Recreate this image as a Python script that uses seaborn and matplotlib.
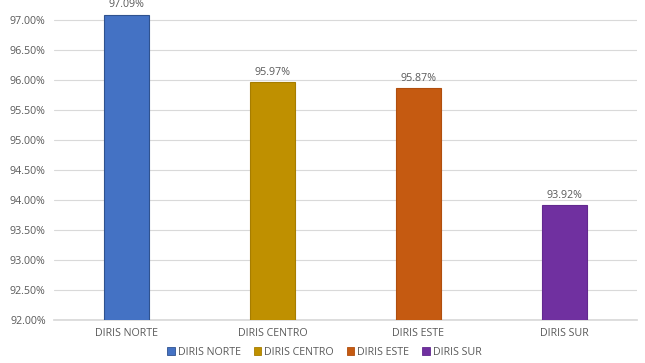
import matplotlib
matplotlib.use("Agg")
import matplotlib.pyplot as plt
import matplotlib.ticker as mtick
import pandas as pd
import seaborn as sns

# datos
categorias = ["DIRIS NORTE", "DIRIS CENTRO", "DIRIS ESTE", "DIRIS SUR"]
valores = [97.09, 95.97, 95.87, 93.92]
colores = ["#4472C4", "#BF9000", "#C55A11", "#7030A0"]
bordes = ["#2F528F", "#A67D00", "#B04E0E", "#62298E"]

df = pd.DataFrame({"diris": categorias, "pct": valores})

sns.set_theme(style="white")
plt.rcParams["font.family"] = ["Open Sans", "DejaVu Sans"]
gris = "#595959"

fig = plt.figure(figsize=(6.45, 3.63), dpi=100)
ax = fig.add_axes([0.0837, 0.1185, 0.9039, 0.8429])

sns.barplot(data=df, x="diris", y="pct", hue="diris", palette=colores,
            saturation=1, width=0.31, ax=ax, legend=False, zorder=3)

for patch, ec in zip(ax.patches, bordes):
    patch.set_edgecolor(ec)
    patch.set_linewidth(0.8)

ax.set_ylim(92, 97.1)
ax.set_yticks([92 + 0.5 * i for i in range(11)])
ax.yaxis.set_major_formatter(mtick.FuncFormatter(lambda v, p: f"{v:.2f}%"))
ax.grid(axis="y", color="#D9D9D9", linewidth=0.8, zorder=0)
ax.set_xlabel("")
ax.set_ylabel("")
for s in ["top", "right", "left"]:
    ax.spines[s].set_visible(False)
ax.spines["bottom"].set_color("#D9D9D9")
ax.tick_params(axis="both", length=0, labelsize=7.7, labelcolor=gris, pad=6)

for patch, v in zip(ax.patches, valores):
    ax.text(patch.get_x() + patch.get_width() / 2, v + 0.07, f"{v:.2f}%",
            ha="center", va="bottom", fontsize=7.7, color=gris, clip_on=False)

handles = [plt.Rectangle((0, 0), 1, 1, facecolor=c, edgecolor=e, linewidth=0.6)
           for c, e in zip(colores, bordes)]
leg = fig.legend(handles, categorias, loc="lower center", ncol=4,
                 bbox_to_anchor=(0.503, -0.012), frameon=False, fontsize=7.7,
                 handlelength=0.7, handleheight=0.7, handletextpad=0.3,
                 columnspacing=1.2)
for t in leg.get_texts():
    t.set_color(gris)

fig.savefig("out.png", dpi=100)
